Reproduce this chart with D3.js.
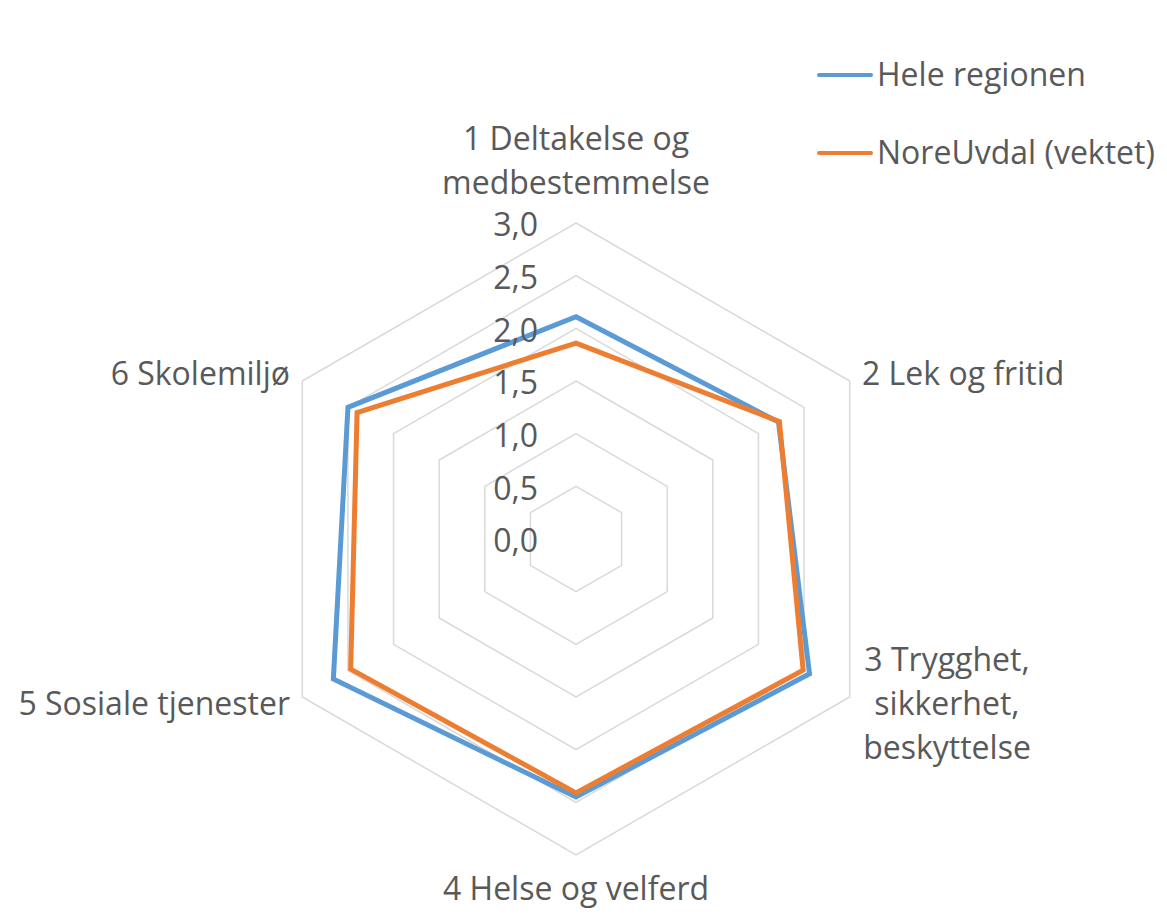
<!DOCTYPE html>
<html>
<head>
<meta charset="utf-8">
<script src="https://cdn.jsdelivr.net/npm/d3@7"></script>
<style>
	body { margin: 0; background: #fff; }
	svg text { font-family: "Open Sans", sans-serif; fill: #595959; }
</style>
</head>
<body>
<div id="chart"></div>
<script>
// axis categories (each entry = lines of the label)
const categories = [
	["1 Deltakelse og", "medbestemmelse"],
	["2 Lek og fritid"],
	["3 Trygghet,", "sikkerhet,", "beskyttelse"],
	["4 Helse og velferd"],
	["5 Sosiale tjenester"],
	["6 Skolemiljø"],
];
const seriesNames = ["Hele regionen", "NoreUvdal (vektet)"];
const heleRegionen = [2.11, 2.22, 2.56, 2.45, 2.66, 2.50];
const noreUvdal = [1.86, 2.23, 2.49, 2.41, 2.47, 2.40];
const tickValues = [0, 0.5, 1, 1.5, 2, 2.5, 3];

const width = 1167;
const height = 914;
const cx = 576;
const cy = 539;
const radius = 316;
const colors = ["#5B9BD5", "#ED7D31"];
const fontSize = 32;

const r = d3.scaleLinear().domain([0, 3]).range([0, radius]);
const angle = (i) => i * Math.PI * 2 / categories.length;
const fmt = (d) => d3.format(".1f")(d).replace(".", ",");

const svg = d3.select("#chart").append("svg")
	.attr("width", width)
	.attr("height", height);

const g = svg.append("g").attr("transform", `translate(${cx},${cy})`);

const ring = d3.lineRadial()
	.angle((d, i) => angle(i))
	.radius((d) => r(d))
	.curve(d3.curveLinearClosed);

// grid rings
g.selectAll(".ring").data(tickValues.filter((t) => t > 0)).enter()
	.append("path")
	.attr("class", "ring")
	.attr("d", (t) => ring(categories.map(() => t)))
	.attr("fill", "none")
	.attr("stroke", "#D9D9D9")
	.attr("stroke-width", 1.5);

// series
[heleRegionen, noreUvdal].forEach((values, s) => {
	g.append("path")
		.attr("d", ring(values))
		.attr("fill", "none")
		.attr("stroke", colors[s])
		.attr("stroke-width", 5)
		.attr("stroke-linejoin", "miter");
});

// value axis labels
g.selectAll(".tick-label").data(tickValues).enter()
	.append("text")
	.attr("class", "tick-label")
	.attr("x", -38)
	.attr("y", (t) => -r(t) + 2)
	.attr("dy", "0.35em")
	.attr("text-anchor", "end")
	.style("font-size", fontSize + "px")
	.text(fmt);

// category labels
const labelPos = [
	{ x: 0, y: -400, anchor: "middle" },
	{ x: 286, y: -165, anchor: "start" },
	{ x: 371, y: 121, anchor: "middle" },
	{ x: 0, y: 350, anchor: "middle" },
	{ x: -286, y: 165, anchor: "end" },
	{ x: -286, y: -165, anchor: "end" },
];
const lineHeight = 44;
categories.forEach((lines, i) => {
	const p = labelPos[i];
	const t = g.append("text")
		.attr("text-anchor", p.anchor)
		.style("font-size", fontSize + "px");
	lines.forEach((line, k) => {
		t.append("tspan")
			.attr("x", p.x)
			.attr("y", p.y + k * lineHeight)
			.attr("dy", "0.35em")
			.text(line);
	});
});

// legend
const legend = svg.append("g");
seriesNames.forEach((name, s) => {
	const y = 75 + s * 78;
	legend.append("line")
		.attr("x1", 819).attr("x2", 871)
		.attr("y1", y).attr("y2", y)
		.attr("stroke", colors[s])
		.attr("stroke-width", 4)
		.attr("stroke-linecap", "round");
	legend.append("text")
		.attr("x", 877)
		.attr("y", y)
		.attr("dy", "0.35em")
		.style("font-size", fontSize + "px")
		.text(name);
});
</script>
</body>
</html>
